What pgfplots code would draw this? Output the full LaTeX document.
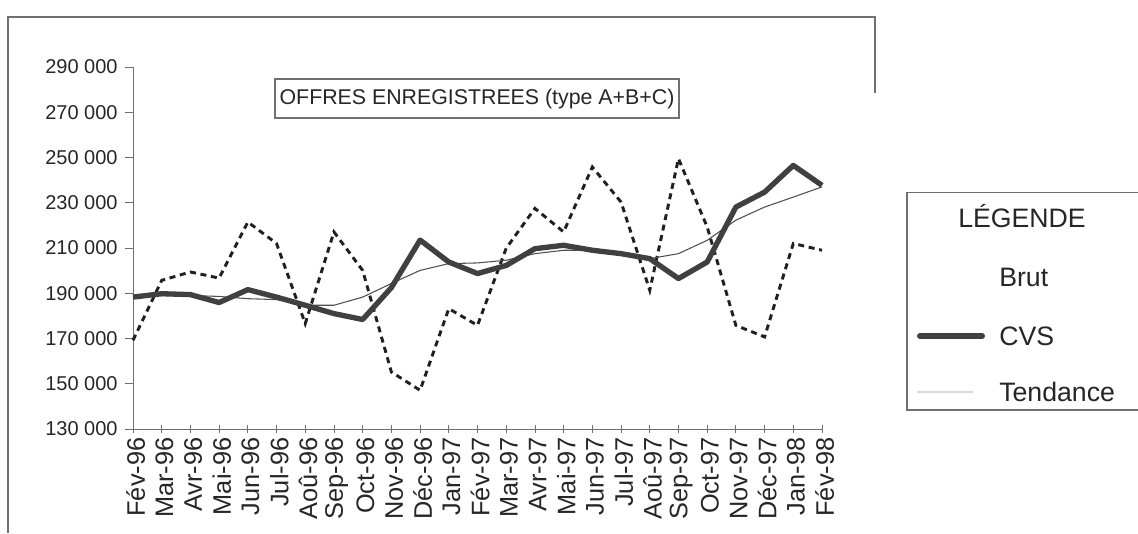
\documentclass[border=0pt]{standalone}
\usepackage{pgfplots}
\pgfplotsset{compat=1.18}
\usepackage{fontspec}
\setmainfont{Liberation Sans}
\definecolor{axgray}{HTML}{707070}
\definecolor{cvs}{HTML}{404040}
\definecolor{brut}{HTML}{202020}
\definecolor{tend}{HTML}{505050}
\begin{document}
\begin{tikzpicture}[x=0.75pt,y=0.75pt]
\useasboundingbox (0,0) rectangle (1138,533);
\fill[white] (0,0) rectangle (1138,533);
% outer frame
\draw[axgray, line width=0.8pt] (8,0) -- (8,516) -- (875,516) -- (875,440);
\begin{axis}[
  at={(99.75pt,78pt)}, anchor=south west,
  scale only axis, width=516.75pt, height=271.5pt,
  xmin=0, xmax=24, ymin=130000, ymax=290000,
  axis x line=bottom, axis y line=left,
  axis line style={-, axgray, line width=0.7pt},
  scaled y ticks=false,
  xtick={0,...,24},
  xticklabels={Fév-96,Mar-96,Avr-96,Mai-96,Jun-96,Jul-96,Aoû-96,Sep-96,Oct-96,Nov-96,Déc-96,Jan-97,Fév-97,Mar-97,Avr-97,Mai-97,Jun-97,Jul-97,Aoû-97,Sep-97,Oct-97,Nov-97,Déc-97,Jan-98,Fév-98},
  ytick={130000,150000,170000,190000,210000,230000,250000,270000,290000},
  yticklabels={130 000,150 000,170 000,190 000,210 000,230 000,250 000,270 000,290 000},
  x tick style={axgray, line width=0.6pt},
  y tick style={axgray, line width=0.6pt},
  xtick align=center, ytick align=outside,
  major tick length=6pt,
  yticklabel style={font=\fontsize{15}{15}\selectfont, text=black!85, xshift=-2pt},
  xticklabel style={font=\fontsize{19}{19}\selectfont, text=black!85, rotate=90, anchor=east, yshift=-2pt},
  clip=false,
]
\addplot[brut, line width=2.2pt, dash pattern=on 4.5pt off 3.5pt] coordinates {
(0,169200) (1,195700) (2,199400) (3,196700) (4,221500) (5,212000) (6,176600)
(7,217100) (8,200100) (9,155200) (10,147100) (11,183200) (12,175800) (13,209900)
(14,227500) (15,217100) (16,245800) (17,230300) (18,191300) (19,249500) (20,219300)
(21,175800) (22,170700) (23,212000) (24,209000)};
\addplot[tend, line width=0.8pt] coordinates {
(0,188000) (1,189000) (2,189000) (3,188600) (4,187600) (5,187200) (6,184700)
(7,184700) (8,188300) (9,194300) (10,200100) (11,203100) (12,203400) (13,204600)
(14,207500) (15,209000) (16,209000) (17,207500) (18,205300) (19,207500) (20,213400)
(21,222300) (22,228100) (23,232500) (24,237000)};
\addplot[cvs, line width=4pt, line join=round] coordinates {
(0,188300) (1,189800) (2,189400) (3,185900) (4,191600) (5,188300) (6,184700)
(7,181000) (8,178400) (9,192500) (10,213500) (11,203800) (12,198700) (13,202300)
(14,209700) (15,211200) (16,209000) (17,207500) (18,205300) (19,196500) (20,203800)
(21,228100) (22,234700) (23,246500) (24,237700)};
\end{axis}
% title box
\draw[axgray, line width=0.8pt] (275,454) rectangle (679,415);
\node[font=\fontsize{16}{16}\selectfont, text=black!85] at (477,434.5) {OFFRES ENREGISTREES (type A+B+C)};
% legend box
\draw[axgray, line width=0.9pt] (1145,340.5) -- (907,340.5) -- (907,123) -- (1145,123);
\node[font=\fontsize{20}{20}\selectfont, text=black!85] at (1022,317) {LÉGENDE};
\node[font=\fontsize{20}{20}\selectfont, text=black!85, anchor=west, inner sep=0pt] at (999,256) {Brut};
\draw[cvs, line width=4.5pt, line cap=round] (920,197) -- (982,197);
\node[font=\fontsize{20}{20}\selectfont, text=black!85, anchor=west, inner sep=0pt] at (999,197) {CVS};
\draw[black!15, line width=0.8pt] (917,141) -- (973,141);
\node[font=\fontsize{20}{20}\selectfont, text=black!85, anchor=west, inner sep=0pt] at (999,141) {Tendance};
\end{tikzpicture}
\end{document}
